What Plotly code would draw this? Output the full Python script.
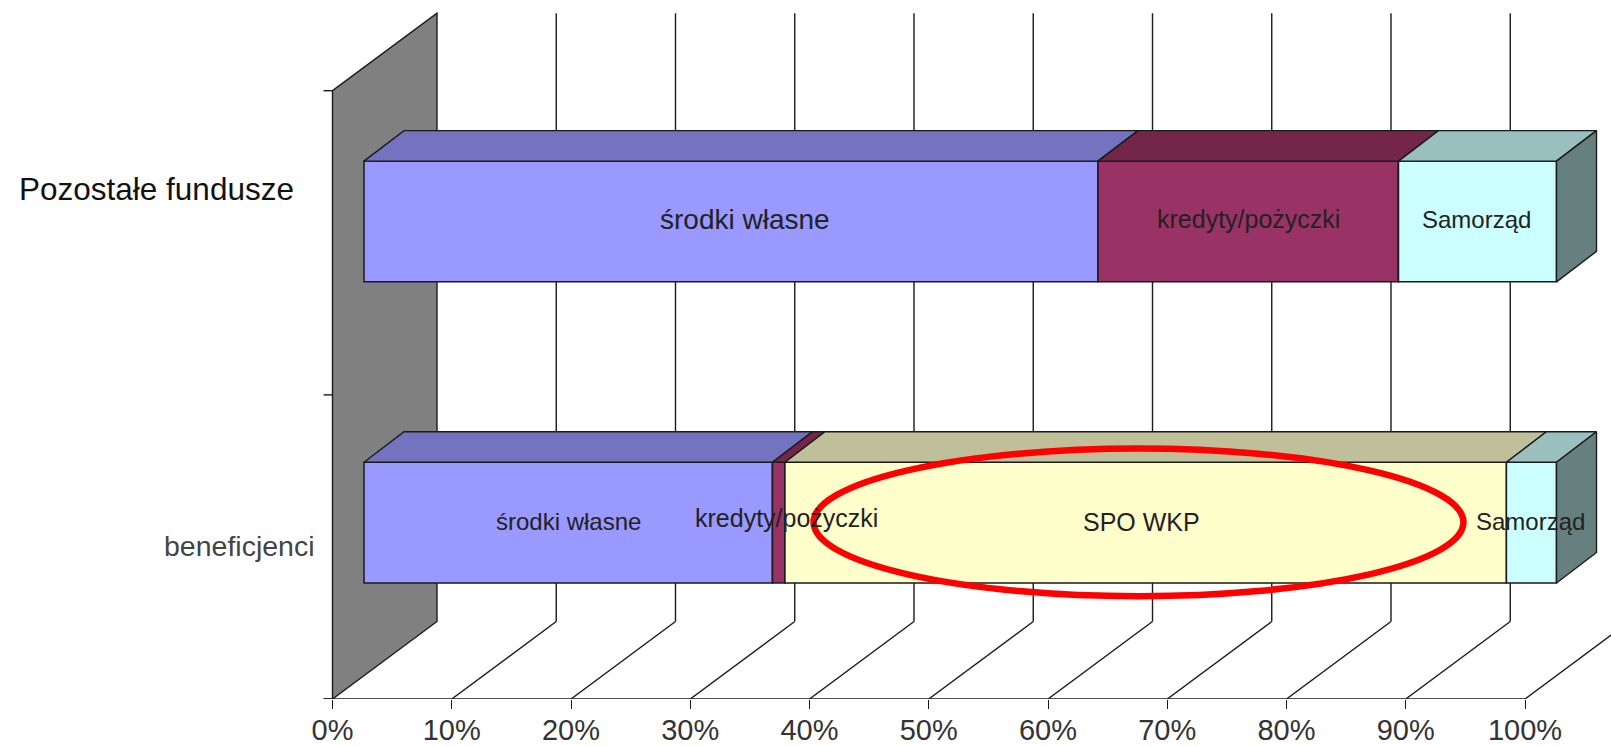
import plotly.graph_objects as go

# ---- data ----
categories = ["beneficjenci", "Pozostałe fundusze"]
cat_positions = [0.58, 1.57]
series_names = ["środki własne", "kredyty/pożyczki", "SPO WKP", "Samorząd"]
srodki_wlasne = [34.25, 61.55]
kredyty = [1.05, 25.2]
spo_wkp = [60.5, 0]
samorzad = [4.2, 13.25]
tick_values = [0, 10, 20, 30, 40, 50, 60, 70, 80, 90, 100]
tick_labels = ["0%", "10%", "20%", "30%", "40%", "50%", "60%", "70%", "80%", "90%", "100%"]

# ---- styles ----
front_colors = ["#9999FF", "#993366", "#FFFFCC", "#CCFFFF"]
top_colors = ["#7373BF", "#732649", "#BFBF99", "#99BFBF"]
side_color = "#668080"
wall_color = "#808080"
edge = "#1a1a1a"
FONT = "Liberation Sans, Arial, sans-serif"

W, H = 1611, 746
LEFT_PX, PX_PER_PCT = 332.5, 11.925
FLOOR_PX, PX_PER_CAT = 699.0, 304.15

BAR_SHIFT = 31.5 / PX_PER_PCT       # bars stand in from the front of the floor
BAR_THICK = 0.397
BAR_DX = 40 / PX_PER_PCT            # depth of a bar
BAR_DY = 30.5 / PX_PER_CAT
WALL_DX = 104.5 / PX_PER_PCT        # depth of the chart box
WALL_DY = 77.5 / PX_PER_CAT
WALL_TOP = 2.0 + WALL_DY

x_range = [-LEFT_PX / PX_PER_PCT, (W - LEFT_PX) / PX_PER_PCT]
y_range = [0, FLOOR_PX / PX_PER_CAT]

series = [srodki_wlasne, kredyty, spo_wkp, samorzad]
fig = go.Figure()
shapes = []
annotations = []


def line(x0, y0, x1, y1, width=1.4, color=edge, layer="below"):
    shapes.append(dict(type="line", xref="x", yref="y", x0=x0, y0=y0, x1=x1, y1=y1,
                       layer=layer, line=dict(color=color, width=width)))


# back wall (left)
shapes.append(dict(type="path", xref="x", yref="y", layer="below", fillcolor=wall_color,
                   line=dict(color=edge, width=1.4),
                   path=f"M 0 0 L 0 2 L {WALL_DX} {WALL_TOP} L {WALL_DX} {WALL_DY} Z"))
# grid: floor lines and back-wall verticals
for t in tick_values[1:]:
    line(t, 0, t + WALL_DX, WALL_DY)
    line(t + WALL_DX, WALL_DY, t + WALL_DX, WALL_TOP)
# value axis and category ticks
line(-0.75, 0, 100, 0)
for c in [0, 1, 2]:
    line(-0.75, c, 0, c)

# front faces as real bars
bases = [BAR_SHIFT, BAR_SHIFT]
for name, vals, col, top in zip(series_names, series, front_colors, top_colors):
    fig.add_trace(go.Bar(y=cat_positions, x=vals, base=list(bases), orientation="h", width=BAR_THICK,
                         name=name, marker=dict(color=col, line=dict(color=edge, width=1.5))))
    # top faces
    for i, yc in enumerate(cat_positions):
        if vals[i] <= 0:
            continue
        ytop = yc + BAR_THICK / 2
        x0, x1 = bases[i], bases[i] + vals[i]
        fig.add_trace(go.Scatter(x=[x0, x1, x1 + BAR_DX, x0 + BAR_DX, x0],
                                 y=[ytop, ytop, ytop + BAR_DY, ytop + BAR_DY, ytop],
                                 mode="lines", fill="toself", fillcolor=top,
                                 line=dict(color=edge, width=1.4), hoverinfo="skip"))
    bases = [b + v for b, v in zip(bases, vals)]

# right side faces
for i, yc in enumerate(cat_positions):
    xe = bases[i]
    yt, yb = yc + BAR_THICK / 2, yc - BAR_THICK / 2
    fig.add_trace(go.Scatter(x=[xe, xe + BAR_DX, xe + BAR_DX, xe, xe],
                             y=[yt, yt + BAR_DY, yb + BAR_DY, yb, yt],
                             mode="lines", fill="toself", fillcolor=side_color,
                             line=dict(color=edge, width=1.4), hoverinfo="skip"))

# highlight ellipse
shapes.append(dict(type="circle", xref="x", yref="y", x0=40.34, x1=94.84, y0=0.338, y1=0.8236,
                   layer="above", line=dict(color="#FF0000", width=6.5)))

# segment labels: (x-shift, y-shift, font size) per bar
label_style = {
    (0, 0): (0, -1, 24), (1, 0): (8, -5, 25), (2, 0): (-4, -1, 25), (3, 0): (-1, -1, 24),
    (0, 1): (14, -2, 28), (1, 1): (0, -2, 25), (3, 1): (-1, -2, 24),
}
bases = [BAR_SHIFT, BAR_SHIFT]
for s, (name, vals) in enumerate(zip(series_names, series)):
    for i, yc in enumerate(cat_positions):
        if vals[i] > 0:
            dx, dy, fs = label_style[(s, i)]
            annotations.append(dict(x=bases[i] + vals[i] / 2, y=yc, xref="x", yref="y", text=name,
                                    showarrow=False, xshift=dx, yshift=-dy,
                                    font=dict(family=FONT, size=fs, color="#222222")))
    bases = [b + v for b, v in zip(bases, vals)]

# category labels
annotations.append(dict(x=-1.3, y=0.503, xref="x", yref="y", text=categories[0], showarrow=False,
                        xanchor="right", font=dict(family=FONT, size=28.5, color="#444444")))
annotations.append(dict(x=-3.05, y=1.676, xref="x", yref="y", text=categories[1], showarrow=False,
                        xanchor="right", font=dict(family=FONT, size=31.5, color="#111111")))

fig.update_layout(
    width=W, height=H, autosize=False,
    margin=dict(l=0, r=0, t=0, b=H - FLOOR_PX, pad=0),
    paper_bgcolor="white", plot_bgcolor="white",
    showlegend=False, barmode="overlay",
    shapes=shapes, annotations=annotations,
    xaxis=dict(range=x_range, tickmode="array", tickvals=tick_values, ticktext=tick_labels,
               automargin=False,
               showgrid=False, zeroline=False, showline=False,
               ticks="outside", ticklen=9, tickwidth=1.4, tickcolor=edge, ticklabelstandoff=-4,
               tickfont=dict(family=FONT, size=29, color="#333333")),
    yaxis=dict(range=y_range, visible=False, showgrid=False, zeroline=False, automargin=False),
)
fig.write_html("out.html", config=dict(displayModeBar=False),
               post_script="document.body.style.margin='0';document.documentElement.style.overflow='hidden';")
